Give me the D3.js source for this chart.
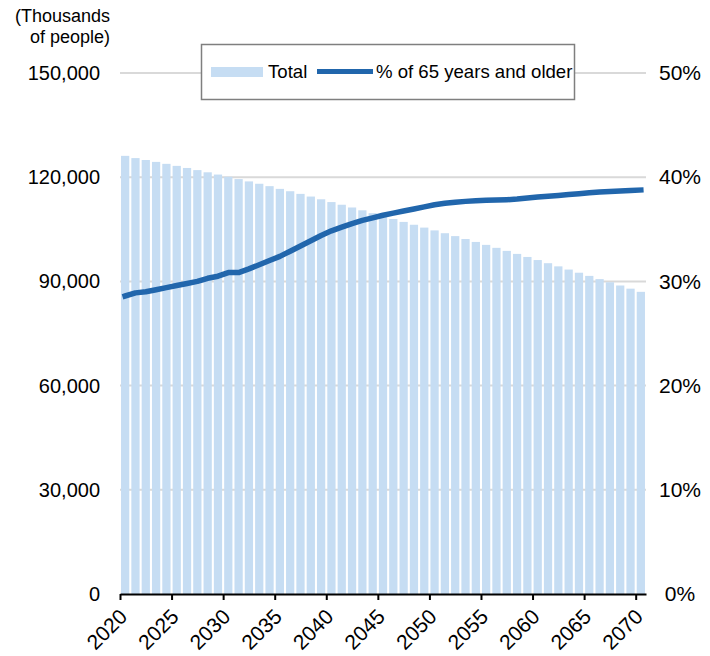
<!DOCTYPE html>
<html>
<head>
<meta charset="utf-8">
<script src="https://cdn.jsdelivr.net/npm/d3@7"></script>
<style>
  body { margin: 0; background: #fff; }
  text { font-family: Arial, "Liberation Sans", sans-serif; fill: #000; }
</style>
</head>
<body>
<script>
(function () {

    const years = [2020, 2021, 2022, 2023, 2024, 2025, 2026, 2027, 2028, 2029,
        2030, 2031, 2032, 2033, 2034, 2035, 2036, 2037, 2038, 2039,
        2040, 2041, 2042, 2043, 2044, 2045, 2046, 2047, 2048, 2049,
        2050, 2051, 2052, 2053, 2054, 2055, 2056, 2057, 2058, 2059,
        2060, 2061, 2062, 2063, 2064, 2065, 2066, 2067, 2068, 2069, 2070];

    // total population, thousands
    const total = [126146, 125502, 124947, 124408, 123844, 123262, 122661, 122044, 121410, 120764,
        120116, 119458, 118790, 118111, 117421, 116639, 115960, 115200, 114430, 113640,
        112837, 112070, 111280, 110470, 109640, 108801, 107960, 107130, 106310, 105490,
        104686, 103870, 103040, 102200, 101360, 100518, 99660, 98790, 97920, 97040,
        96148, 95240, 94330, 93410, 92500, 91587, 90660, 89750, 88820, 87910, 86996];

    // share of 65 years and older, %
    const share65 = [28.6, 28.9, 29.0, 29.2, 29.4, 29.6, 29.8, 30.0, 30.3, 30.5,
        30.85, 30.85, 31.2, 31.6, 32.0, 32.4, 32.9, 33.4, 33.9, 34.4,
        34.85, 35.2, 35.55, 35.85, 36.1, 36.35, 36.55, 36.75, 36.95, 37.15,
        37.35, 37.5, 37.6, 37.68, 37.74, 37.78, 37.8, 37.84, 37.9, 38.0,
        38.1, 38.18, 38.25, 38.33, 38.42, 38.5, 38.57, 38.63, 38.67, 38.72, 38.77];

    const xTicks = [2020, 2025, 2030, 2035, 2040, 2045, 2050, 2055, 2060, 2065, 2070];
    const leftTicks = [0, 30000, 60000, 90000, 120000, 150000];
    const rightTicks = [0, 10, 20, 30, 40, 50];

    const width = 710, height = 656;
    const plot = {left: 120, right: 646, top: 73, bottom: 594};

    const svg = d3.select('body')
        .append('svg')
        .attr('width', width)
        .attr('height', height);

    const x = d3.scaleBand()
        .domain(years)
        .range([plot.left, plot.right])
        .paddingInner(0.2)
        .paddingOuter(0.1);

    // continuous year scale for tick marks (ticks sit at band edges)
    const xYear = d3.scaleLinear()
        .domain([2020, 2071])
        .range([plot.left, plot.right]);

    const yLeft = d3.scaleLinear()
        .domain([0, 150000])
        .range([plot.bottom, plot.top]);

    const yRight = d3.scaleLinear()
        .domain([0, 50])
        .range([plot.bottom, plot.top]);

    // gridlines
    svg.append('g')
        .selectAll('line')
        .data(leftTicks.slice(1))
        .join('line')
        .attr('x1', plot.left)
        .attr('x2', plot.right)
        .attr('y1', d => yLeft(d))
        .attr('y2', d => yLeft(d))
        .attr('stroke', '#d9d9d9')
        .attr('stroke-width', 2);

    // bars
    svg.append('g')
        .selectAll('rect')
        .data(years)
        .join('rect')
        .attr('x', d => x(d))
        .attr('width', x.bandwidth())
        .attr('y', (d, i) => yLeft(total[i]))
        .attr('height', (d, i) => plot.bottom - yLeft(total[i]))
        .attr('fill', '#c6ddf3');

    // line
    const line = d3.line()
        .x(d => x(d) + x.bandwidth() / 2)
        .y((d, i) => yRight(share65[i]));

    svg.append('path')
        .datum(years)
        .attr('d', line)
        .attr('fill', 'none')
        .attr('stroke', '#2166ac')
        .attr('stroke-width', 5.5)
        .attr('stroke-linejoin', 'round')
        .attr('stroke-linecap', 'square');

    // x axis
    const xAxis = d3.axisBottom(xYear)
        .tickValues(xTicks)
        .tickFormat(d3.format('d'))
        .tickSize(6)
        .tickSizeOuter(0);

    const gx = svg.append('g')
        .attr('transform', 'translate(0,' + plot.bottom + ')')
        .call(xAxis);

    gx.select('.domain').attr('stroke', '#000').attr('stroke-width', 2);
    gx.selectAll('.tick line').attr('stroke', '#000').attr('stroke-width', 2);
    gx.selectAll('.tick text')
        .attr('y', 0)
        .attr('dy', 0)
        .attr('transform', 'translate(8,24) rotate(-45)')
        .attr('text-anchor', 'end')
        .attr('font-size', 21)
        .attr('font-family', 'Arial, "Liberation Sans", sans-serif');

    // left axis
    const gl = svg.append('g')
        .attr('transform', 'translate(' + plot.left + ',0)')
        .call(d3.axisLeft(yLeft)
            .tickValues(leftTicks)
            .tickFormat(d3.format(','))
            .tickSize(0)
            .tickPadding(20));
    gl.select('.domain').remove();
    gl.selectAll('text')
        .attr('font-size', 20)
        .attr('font-family', 'Arial, "Liberation Sans", sans-serif');

    // right axis
    const gr = svg.append('g')
        .attr('transform', 'translate(' + plot.right + ',0)')
        .call(d3.axisRight(yRight)
            .tickValues(rightTicks)
            .tickFormat(d => d + '%')
            .tickSize(0)
            .tickPadding(34));
    gr.select('.domain').remove();
    gr.selectAll('text')
        .attr('text-anchor', 'middle')
        .attr('font-size', 21)
        .attr('font-family', 'Arial, "Liberation Sans", sans-serif');

    // unit label
    const unit = svg.append('text')
        .attr('text-anchor', 'end')
        .attr('font-size', 18);
    unit.append('tspan').attr('x', 110).attr('y', 22).text('(Thousands');
    unit.append('tspan').attr('x', 110).attr('y', 43).text('of people)');

    // legend
    const legend = svg.append('g');
    legend.append('rect')
        .attr('x', 201.5)
        .attr('y', 44.5)
        .attr('width', 373)
        .attr('height', 55)
        .attr('fill', '#fff')
        .attr('stroke', '#7f7f7f')
        .attr('stroke-width', 1.5);
    legend.append('rect')
        .attr('x', 211)
        .attr('y', 67)
        .attr('width', 52)
        .attr('height', 10)
        .attr('fill', '#c6ddf3');
    legend.append('text')
        .attr('x', 268)
        .attr('y', 78)
        .attr('font-size', 18.6)
        .text('Total');
    legend.append('line')
        .attr('x1', 317)
        .attr('x2', 373)
        .attr('y1', 71.5)
        .attr('y2', 71.5)
        .attr('stroke', '#2166ac')
        .attr('stroke-width', 5);
    legend.append('text')
        .attr('x', 376)
        .attr('y', 78)
        .attr('font-size', 18.6)
        .text('% of 65 years and older');

})();
</script>
</body>
</html>
